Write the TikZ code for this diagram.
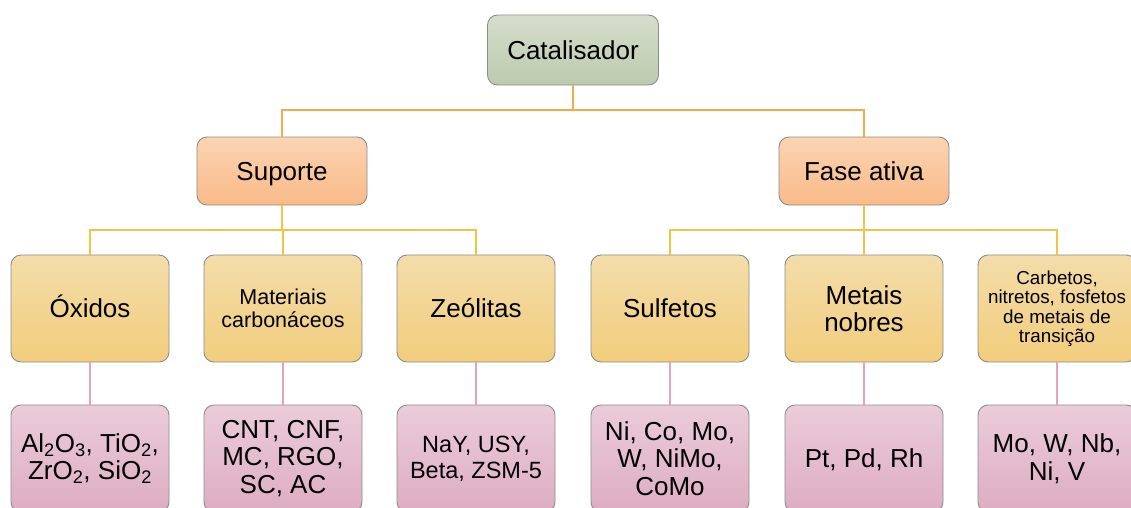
\documentclass[tikz,border=0pt]{standalone}
\usepackage{fontspec}
\setmainfont{Liberation Sans}
\definecolor{bordc}{HTML}{8C8C8C}
\definecolor{gtop}{HTML}{D5DECB}
\definecolor{gbot}{HTML}{BCCAAE}
\definecolor{otop}{HTML}{FBD4B3}
\definecolor{obot}{HTML}{F9BA88}
\definecolor{ytop}{HTML}{F3DDAA}
\definecolor{ybot}{HTML}{F2CD7C}
\definecolor{ptop}{HTML}{EBCCD9}
\definecolor{pbot}{HTML}{DDADC1}
\definecolor{lorange}{HTML}{F5A94E}
\definecolor{lyellow}{HTML}{F1C544}
\definecolor{lpink}{HTML}{E2A3BC}
\newcommand\topstrut{\rule{0pt}{1.1em}}
\newcommand\botstrut{\rule[-0.38em]{0pt}{0.38em}}
\newcommand\botstrutm{\rule[-0.03em]{0pt}{0.03em}}
\tikzset{
  boxbase/.style={draw=bordc, line width=0.9pt, rounded corners=10pt, align=center, inner sep=0pt, text=black,
    execute at begin node=\topstrut},
  onel/.style={execute at end node=\botstrut},
  mull/.style={execute at end node=\botstrutm},
  lvlone/.style={boxbase, top color=gtop, bottom color=gbot, minimum width=171pt, minimum height=70pt, font=\fontsize{26}{28}\selectfont},
  lvltwo/.style={boxbase, top color=otop, bottom color=obot, minimum width=170pt, minimum height=68pt, font=\fontsize{26}{28}\selectfont},
  lvlthree/.style={boxbase, top color=ytop, bottom color=ybot, minimum width=158pt, minimum height=107pt, font=\fontsize{26}{27}\selectfont},
  lvlfour/.style={boxbase, top color=ptop, bottom color=pbot, minimum width=158pt, minimum height=107pt, font=\fontsize{26}{27.5}\selectfont},
  conO/.style={draw=lorange, line width=1.8pt},
  conY/.style={draw=lyellow, line width=1.8pt},
  conP/.style={draw=lpink, line width=1.8pt},
}
\begin{document}
\begin{tikzpicture}[x=1pt,y=-1pt]
\useasboundingbox (0,0) rectangle (1131,507);
\clip (0,0) rectangle (1131,507);
\coordinate (j0) at (573,110);
\coordinate (k0) at (282,230);
\coordinate (k1) at (864,230);

\node[lvlone, onel] (cat) at (573,50) {Catalisador};
\node[lvltwo, onel] (sup) at (282,171) {Suporte};
\node[lvltwo, onel] (fase) at (864,171) {Fase ativa};

\node[lvlthree, onel] (oxi) at (90,308.5) {Óxidos};
\node[lvlthree, mull, font=\fontsize{21.5}{23}\selectfont] (mat) at (283,308.5) {Materiais\\carbonáceos};
\node[lvlthree, onel] (zeo) at (476,308.5) {Zeólitas};
\node[lvlthree, onel] (sulf) at (670,308.5) {Sulfetos};
\node[lvlthree, mull] (met) at (864,308.5) {Metais\\nobres};
\node[lvlthree, mull, font=\fontsize{18.8}{19.5}\selectfont] (carb) at (1057,308.5) {Carbetos,\\nitretos, fosfetos\\de metais de\\transição};

\node[lvlfour, mull] (oxi4) at (90,458.5) {Al\textsubscript{2}O\textsubscript{3}, TiO\textsubscript{2},\\ZrO\textsubscript{2}, SiO\textsubscript{2}};
\node[lvlfour, mull] (mat4) at (283,458.5) {CNT, CNF,\\MC, RGO,\\SC, AC};
\node[lvlfour, mull, font=\fontsize{23.5}{26}\selectfont] (zeo4) at (476,458.5) {NaY, USY,\\Beta, ZSM-5};
\node[lvlfour, mull] (sulf4) at (670,458.5) {Ni, Co, Mo,\\W, NiMo,\\CoMo};
\node[lvlfour, onel] (met4) at (864,458.5) {Pt, Pd, Rh};
\node[lvlfour, mull] (carb4) at (1057,458.5) {Mo, W, Nb,\\Ni, V};

% level 1 -> 2
\draw[conO] (cat.south) -- (j0);
\draw[conO] (sup.north) |- (j0) -| (fase.north);
% level 2 -> 3
\draw[conY] (sup.south) -- (k0);
\draw[conY] (oxi.north) |- (k0) -| (zeo.north);
\draw[conY] (mat.north) -- (mat.north |- k0);
\draw[conY] (fase.south) -- (k1);
\draw[conY] (sulf.north) |- (k1) -| (carb.north);
\draw[conY] (met.north) -- (k1);
% level 3 -> 4
\draw[conP] (oxi.south) -- (oxi4.north);
\draw[conP] (mat.south) -- (mat4.north);
\draw[conP] (zeo.south) -- (zeo4.north);
\draw[conP] (sulf.south) -- (sulf4.north);
\draw[conP] (met.south) -- (met4.north);
\draw[conP] (carb.south) -- (carb4.north);
\end{tikzpicture}
\end{document}
